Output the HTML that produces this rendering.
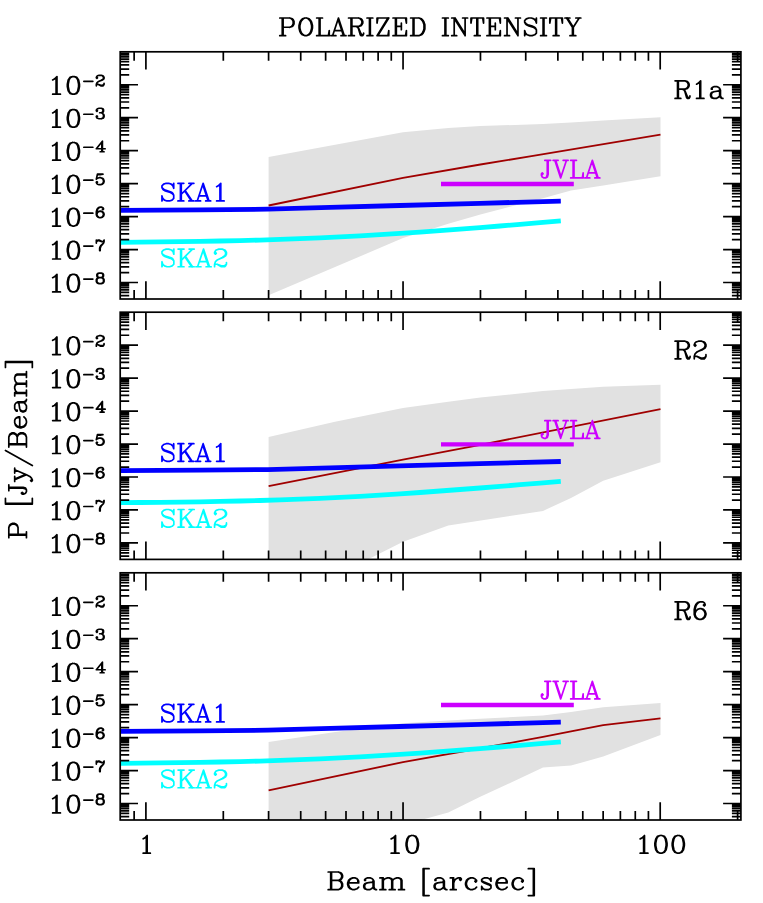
<!DOCTYPE html>
<html><head><meta charset="utf-8"><title>Polarized intensity</title>
<style>html,body{margin:0;padding:0;background:#fff;}svg{display:block;}text{font-family:"Liberation Serif",serif;fill:#000;fill-opacity:0;stroke:none;}</style></head><body>
<svg width="763" height="903" viewBox="0 0 763 903">
<rect x="0" y="0" width="763" height="903" fill="#ffffff"/>
<polygon points="268.6,157.1 403.0,132.2 448.3,128.0 480.4,126.0 543.0,124.1 571.0,122.5 603.2,120.6 660.5,117.2 660.5,176.2 603.2,185.4 571.0,190.5 543.0,198.2 480.4,214.5 448.3,223.8 403.0,238.1 268.6,295.3" fill="#e1e1e1"/>
<polyline points="268.6,205.5 403.0,177.9 480.4,164.5 530.0,156.4 660.5,134.6" fill="none" stroke="#a00000" stroke-width="1.8"/>
<polyline points="121.0,210.3 200.0,209.8 268.0,209.2 330.0,207.4 400.0,205.5 480.0,203.3 560.8,201.1" fill="none" stroke="#0000ff" stroke-width="4.8" stroke-linejoin="round"/>
<polyline points="121.0,242.3 140.0,242.1 160.0,241.9 180.0,241.7 200.0,241.4 220.0,241.0 240.0,240.6 260.0,240.1 280.0,239.4 300.0,238.7 320.0,237.9 340.0,236.9 360.0,235.9 380.0,234.7 400.0,233.4 420.0,232.1 440.0,230.6 460.0,229.1 480.0,227.6 500.0,226.0 520.0,224.3 540.0,222.7 560.8,220.9" fill="none" stroke="#00ffff" stroke-width="4.8" stroke-linejoin="round"/>
<polyline points="441.0,184.0 573.8,184.0" fill="none" stroke="#cc00ff" stroke-width="4.4"/>
<polygon points="268.6,437.0 335.0,421.8 403.0,407.9 448.3,401.7 480.4,397.5 543.0,391.0 571.0,388.9 603.2,386.8 660.5,384.7 660.5,462.3 603.2,480.7 571.0,497.9 543.0,510.9 448.3,525.6 403.1,541.8 367.7,559.4 268.6,559.4" fill="#e1e1e1"/>
<polyline points="268.6,486.2 403.0,459.7 480.4,444.9 660.5,409.2" fill="none" stroke="#a00000" stroke-width="1.8"/>
<polyline points="121.0,470.7 200.0,470.2 268.0,469.6 330.0,467.8 400.0,465.9 480.0,463.7 560.8,461.5" fill="none" stroke="#0000ff" stroke-width="4.8" stroke-linejoin="round"/>
<polyline points="121.0,502.7 140.0,502.5 160.0,502.3 180.0,502.1 200.0,501.8 220.0,501.4 240.0,501.0 260.0,500.5 280.0,499.8 300.0,499.1 320.0,498.3 340.0,497.3 360.0,496.3 380.0,495.1 400.0,493.8 420.0,492.5 440.0,491.0 460.0,489.5 480.0,488.0 500.0,486.4 520.0,484.7 540.0,483.1 560.8,481.3" fill="none" stroke="#00ffff" stroke-width="4.8" stroke-linejoin="round"/>
<polyline points="441.0,444.4 573.8,444.4" fill="none" stroke="#cc00ff" stroke-width="4.4"/>
<polygon points="268.6,742.1 333.6,732.3 403.0,723.3 448.3,720.5 480.4,718.7 543.0,715.6 571.0,711.9 603.2,707.3 660.5,703.1 660.5,734.9 603.2,756.5 571.0,765.6 543.0,767.6 479.7,797.1 448.3,812.6 421.0,820.0 268.6,820.0" fill="#e1e1e1"/>
<polyline points="268.6,790.3 403.0,762.1 520.0,741.2 543.0,736.8 571.0,731.4 603.2,725.1 660.5,718.4" fill="none" stroke="#a00000" stroke-width="1.8"/>
<polyline points="121.0,731.3 200.0,730.8 268.0,730.2 330.0,728.4 400.0,726.5 480.0,724.3 560.8,722.1" fill="none" stroke="#0000ff" stroke-width="4.8" stroke-linejoin="round"/>
<polyline points="121.0,763.3 140.0,763.1 160.0,762.9 180.0,762.7 200.0,762.4 220.0,762.0 240.0,761.6 260.0,761.1 280.0,760.4 300.0,759.7 320.0,758.9 340.0,757.9 360.0,756.9 380.0,755.7 400.0,754.4 420.0,753.1 440.0,751.6 460.0,750.1 480.0,748.6 500.0,747.0 520.0,745.3 540.0,743.7 560.8,741.9" fill="none" stroke="#00ffff" stroke-width="4.8" stroke-linejoin="round"/>
<polyline points="441.0,705.0 573.8,705.0" fill="none" stroke="#cc00ff" stroke-width="4.4"/>
<rect x="120.2" y="51.80" width="620.70" height="247.20" fill="none" stroke="#000" stroke-width="1.7"/>
<rect x="120.2" y="312.20" width="620.70" height="247.20" fill="none" stroke="#000" stroke-width="1.7"/>
<rect x="120.2" y="572.80" width="620.70" height="247.20" fill="none" stroke="#000" stroke-width="1.7"/>
<path d="M134.13 51.80v9.0M134.13 299.00v-9.0M145.90 51.80v17.8M145.90 299.00v-17.8M223.31 51.80v9.0M223.31 299.00v-9.0M268.59 51.80v9.0M268.59 299.00v-9.0M300.72 51.80v9.0M300.72 299.00v-9.0M325.64 51.80v9.0M325.64 299.00v-9.0M346.00 51.80v9.0M346.00 299.00v-9.0M363.22 51.80v9.0M363.22 299.00v-9.0M378.13 51.80v9.0M378.13 299.00v-9.0M391.28 51.80v9.0M391.28 299.00v-9.0M403.05 51.80v17.8M403.05 299.00v-17.8M480.46 51.80v9.0M480.46 299.00v-9.0M525.74 51.80v9.0M525.74 299.00v-9.0M557.87 51.80v9.0M557.87 299.00v-9.0M582.79 51.80v9.0M582.79 299.00v-9.0M603.15 51.80v9.0M603.15 299.00v-9.0M620.37 51.80v9.0M620.37 299.00v-9.0M635.28 51.80v9.0M635.28 299.00v-9.0M648.43 51.80v9.0M648.43 299.00v-9.0M660.20 51.80v17.8M660.20 299.00v-17.8M737.61 51.80v9.0M737.61 299.00v-9.0M120.2 295.64h9.0M740.9 295.64h-9.0M120.2 292.44h9.0M740.9 292.44h-9.0M120.2 289.83h9.0M740.9 289.83h-9.0M120.2 287.63h9.0M740.9 287.63h-9.0M120.2 285.71h9.0M740.9 285.71h-9.0M120.2 284.03h9.0M740.9 284.03h-9.0M120.2 282.52h17.8M740.9 282.52h-17.8M120.2 272.60h9.0M740.9 272.60h-9.0M120.2 266.79h9.0M740.9 266.79h-9.0M120.2 262.68h9.0M740.9 262.68h-9.0M120.2 259.48h9.0M740.9 259.48h-9.0M120.2 256.87h9.0M740.9 256.87h-9.0M120.2 254.67h9.0M740.9 254.67h-9.0M120.2 252.75h9.0M740.9 252.75h-9.0M120.2 251.07h9.0M740.9 251.07h-9.0M120.2 249.56h17.8M740.9 249.56h-17.8M120.2 239.64h9.0M740.9 239.64h-9.0M120.2 233.83h9.0M740.9 233.83h-9.0M120.2 229.72h9.0M740.9 229.72h-9.0M120.2 226.52h9.0M740.9 226.52h-9.0M120.2 223.91h9.0M740.9 223.91h-9.0M120.2 221.71h9.0M740.9 221.71h-9.0M120.2 219.79h9.0M740.9 219.79h-9.0M120.2 218.11h9.0M740.9 218.11h-9.0M120.2 216.60h17.8M740.9 216.60h-17.8M120.2 206.68h9.0M740.9 206.68h-9.0M120.2 200.87h9.0M740.9 200.87h-9.0M120.2 196.76h9.0M740.9 196.76h-9.0M120.2 193.56h9.0M740.9 193.56h-9.0M120.2 190.95h9.0M740.9 190.95h-9.0M120.2 188.75h9.0M740.9 188.75h-9.0M120.2 186.83h9.0M740.9 186.83h-9.0M120.2 185.15h9.0M740.9 185.15h-9.0M120.2 183.64h17.8M740.9 183.64h-17.8M120.2 173.72h9.0M740.9 173.72h-9.0M120.2 167.91h9.0M740.9 167.91h-9.0M120.2 163.80h9.0M740.9 163.80h-9.0M120.2 160.60h9.0M740.9 160.60h-9.0M120.2 157.99h9.0M740.9 157.99h-9.0M120.2 155.79h9.0M740.9 155.79h-9.0M120.2 153.87h9.0M740.9 153.87h-9.0M120.2 152.19h9.0M740.9 152.19h-9.0M120.2 150.68h17.8M740.9 150.68h-17.8M120.2 140.76h9.0M740.9 140.76h-9.0M120.2 134.95h9.0M740.9 134.95h-9.0M120.2 130.84h9.0M740.9 130.84h-9.0M120.2 127.64h9.0M740.9 127.64h-9.0M120.2 125.03h9.0M740.9 125.03h-9.0M120.2 122.83h9.0M740.9 122.83h-9.0M120.2 120.91h9.0M740.9 120.91h-9.0M120.2 119.23h9.0M740.9 119.23h-9.0M120.2 117.72h17.8M740.9 117.72h-17.8M120.2 107.80h9.0M740.9 107.80h-9.0M120.2 101.99h9.0M740.9 101.99h-9.0M120.2 97.88h9.0M740.9 97.88h-9.0M120.2 94.68h9.0M740.9 94.68h-9.0M120.2 92.07h9.0M740.9 92.07h-9.0M120.2 89.87h9.0M740.9 89.87h-9.0M120.2 87.95h9.0M740.9 87.95h-9.0M120.2 86.27h9.0M740.9 86.27h-9.0M120.2 84.76h17.8M740.9 84.76h-17.8M120.2 74.84h9.0M740.9 74.84h-9.0M120.2 69.03h9.0M740.9 69.03h-9.0M120.2 64.92h9.0M740.9 64.92h-9.0M120.2 61.72h9.0M740.9 61.72h-9.0M120.2 59.11h9.0M740.9 59.11h-9.0M120.2 56.91h9.0M740.9 56.91h-9.0M120.2 54.99h9.0M740.9 54.99h-9.0M120.2 53.31h9.0M740.9 53.31h-9.0M134.13 312.20v9.0M134.13 559.40v-9.0M145.90 312.20v17.8M145.90 559.40v-17.8M223.31 312.20v9.0M223.31 559.40v-9.0M268.59 312.20v9.0M268.59 559.40v-9.0M300.72 312.20v9.0M300.72 559.40v-9.0M325.64 312.20v9.0M325.64 559.40v-9.0M346.00 312.20v9.0M346.00 559.40v-9.0M363.22 312.20v9.0M363.22 559.40v-9.0M378.13 312.20v9.0M378.13 559.40v-9.0M391.28 312.20v9.0M391.28 559.40v-9.0M403.05 312.20v17.8M403.05 559.40v-17.8M480.46 312.20v9.0M480.46 559.40v-9.0M525.74 312.20v9.0M525.74 559.40v-9.0M557.87 312.20v9.0M557.87 559.40v-9.0M582.79 312.20v9.0M582.79 559.40v-9.0M603.15 312.20v9.0M603.15 559.40v-9.0M620.37 312.20v9.0M620.37 559.40v-9.0M635.28 312.20v9.0M635.28 559.40v-9.0M648.43 312.20v9.0M648.43 559.40v-9.0M660.20 312.20v17.8M660.20 559.40v-17.8M737.61 312.20v9.0M737.61 559.40v-9.0M120.2 556.04h9.0M740.9 556.04h-9.0M120.2 552.84h9.0M740.9 552.84h-9.0M120.2 550.23h9.0M740.9 550.23h-9.0M120.2 548.03h9.0M740.9 548.03h-9.0M120.2 546.11h9.0M740.9 546.11h-9.0M120.2 544.43h9.0M740.9 544.43h-9.0M120.2 542.92h17.8M740.9 542.92h-17.8M120.2 533.00h9.0M740.9 533.00h-9.0M120.2 527.19h9.0M740.9 527.19h-9.0M120.2 523.08h9.0M740.9 523.08h-9.0M120.2 519.88h9.0M740.9 519.88h-9.0M120.2 517.27h9.0M740.9 517.27h-9.0M120.2 515.07h9.0M740.9 515.07h-9.0M120.2 513.15h9.0M740.9 513.15h-9.0M120.2 511.47h9.0M740.9 511.47h-9.0M120.2 509.96h17.8M740.9 509.96h-17.8M120.2 500.04h9.0M740.9 500.04h-9.0M120.2 494.23h9.0M740.9 494.23h-9.0M120.2 490.12h9.0M740.9 490.12h-9.0M120.2 486.92h9.0M740.9 486.92h-9.0M120.2 484.31h9.0M740.9 484.31h-9.0M120.2 482.11h9.0M740.9 482.11h-9.0M120.2 480.19h9.0M740.9 480.19h-9.0M120.2 478.51h9.0M740.9 478.51h-9.0M120.2 477.00h17.8M740.9 477.00h-17.8M120.2 467.08h9.0M740.9 467.08h-9.0M120.2 461.27h9.0M740.9 461.27h-9.0M120.2 457.16h9.0M740.9 457.16h-9.0M120.2 453.96h9.0M740.9 453.96h-9.0M120.2 451.35h9.0M740.9 451.35h-9.0M120.2 449.15h9.0M740.9 449.15h-9.0M120.2 447.23h9.0M740.9 447.23h-9.0M120.2 445.55h9.0M740.9 445.55h-9.0M120.2 444.04h17.8M740.9 444.04h-17.8M120.2 434.12h9.0M740.9 434.12h-9.0M120.2 428.31h9.0M740.9 428.31h-9.0M120.2 424.20h9.0M740.9 424.20h-9.0M120.2 421.00h9.0M740.9 421.00h-9.0M120.2 418.39h9.0M740.9 418.39h-9.0M120.2 416.19h9.0M740.9 416.19h-9.0M120.2 414.27h9.0M740.9 414.27h-9.0M120.2 412.59h9.0M740.9 412.59h-9.0M120.2 411.08h17.8M740.9 411.08h-17.8M120.2 401.16h9.0M740.9 401.16h-9.0M120.2 395.35h9.0M740.9 395.35h-9.0M120.2 391.24h9.0M740.9 391.24h-9.0M120.2 388.04h9.0M740.9 388.04h-9.0M120.2 385.43h9.0M740.9 385.43h-9.0M120.2 383.23h9.0M740.9 383.23h-9.0M120.2 381.31h9.0M740.9 381.31h-9.0M120.2 379.63h9.0M740.9 379.63h-9.0M120.2 378.12h17.8M740.9 378.12h-17.8M120.2 368.20h9.0M740.9 368.20h-9.0M120.2 362.39h9.0M740.9 362.39h-9.0M120.2 358.28h9.0M740.9 358.28h-9.0M120.2 355.08h9.0M740.9 355.08h-9.0M120.2 352.47h9.0M740.9 352.47h-9.0M120.2 350.27h9.0M740.9 350.27h-9.0M120.2 348.35h9.0M740.9 348.35h-9.0M120.2 346.67h9.0M740.9 346.67h-9.0M120.2 345.16h17.8M740.9 345.16h-17.8M120.2 335.24h9.0M740.9 335.24h-9.0M120.2 329.43h9.0M740.9 329.43h-9.0M120.2 325.32h9.0M740.9 325.32h-9.0M120.2 322.12h9.0M740.9 322.12h-9.0M120.2 319.51h9.0M740.9 319.51h-9.0M120.2 317.31h9.0M740.9 317.31h-9.0M120.2 315.39h9.0M740.9 315.39h-9.0M120.2 313.71h9.0M740.9 313.71h-9.0M134.13 572.80v9.0M134.13 820.00v-9.0M145.90 572.80v17.8M145.90 820.00v-17.8M223.31 572.80v9.0M223.31 820.00v-9.0M268.59 572.80v9.0M268.59 820.00v-9.0M300.72 572.80v9.0M300.72 820.00v-9.0M325.64 572.80v9.0M325.64 820.00v-9.0M346.00 572.80v9.0M346.00 820.00v-9.0M363.22 572.80v9.0M363.22 820.00v-9.0M378.13 572.80v9.0M378.13 820.00v-9.0M391.28 572.80v9.0M391.28 820.00v-9.0M403.05 572.80v17.8M403.05 820.00v-17.8M480.46 572.80v9.0M480.46 820.00v-9.0M525.74 572.80v9.0M525.74 820.00v-9.0M557.87 572.80v9.0M557.87 820.00v-9.0M582.79 572.80v9.0M582.79 820.00v-9.0M603.15 572.80v9.0M603.15 820.00v-9.0M620.37 572.80v9.0M620.37 820.00v-9.0M635.28 572.80v9.0M635.28 820.00v-9.0M648.43 572.80v9.0M648.43 820.00v-9.0M660.20 572.80v17.8M660.20 820.00v-17.8M737.61 572.80v9.0M737.61 820.00v-9.0M120.2 816.64h9.0M740.9 816.64h-9.0M120.2 813.44h9.0M740.9 813.44h-9.0M120.2 810.83h9.0M740.9 810.83h-9.0M120.2 808.63h9.0M740.9 808.63h-9.0M120.2 806.71h9.0M740.9 806.71h-9.0M120.2 805.03h9.0M740.9 805.03h-9.0M120.2 803.52h17.8M740.9 803.52h-17.8M120.2 793.60h9.0M740.9 793.60h-9.0M120.2 787.79h9.0M740.9 787.79h-9.0M120.2 783.68h9.0M740.9 783.68h-9.0M120.2 780.48h9.0M740.9 780.48h-9.0M120.2 777.87h9.0M740.9 777.87h-9.0M120.2 775.67h9.0M740.9 775.67h-9.0M120.2 773.75h9.0M740.9 773.75h-9.0M120.2 772.07h9.0M740.9 772.07h-9.0M120.2 770.56h17.8M740.9 770.56h-17.8M120.2 760.64h9.0M740.9 760.64h-9.0M120.2 754.83h9.0M740.9 754.83h-9.0M120.2 750.72h9.0M740.9 750.72h-9.0M120.2 747.52h9.0M740.9 747.52h-9.0M120.2 744.91h9.0M740.9 744.91h-9.0M120.2 742.71h9.0M740.9 742.71h-9.0M120.2 740.79h9.0M740.9 740.79h-9.0M120.2 739.11h9.0M740.9 739.11h-9.0M120.2 737.60h17.8M740.9 737.60h-17.8M120.2 727.68h9.0M740.9 727.68h-9.0M120.2 721.87h9.0M740.9 721.87h-9.0M120.2 717.76h9.0M740.9 717.76h-9.0M120.2 714.56h9.0M740.9 714.56h-9.0M120.2 711.95h9.0M740.9 711.95h-9.0M120.2 709.75h9.0M740.9 709.75h-9.0M120.2 707.83h9.0M740.9 707.83h-9.0M120.2 706.15h9.0M740.9 706.15h-9.0M120.2 704.64h17.8M740.9 704.64h-17.8M120.2 694.72h9.0M740.9 694.72h-9.0M120.2 688.91h9.0M740.9 688.91h-9.0M120.2 684.80h9.0M740.9 684.80h-9.0M120.2 681.60h9.0M740.9 681.60h-9.0M120.2 678.99h9.0M740.9 678.99h-9.0M120.2 676.79h9.0M740.9 676.79h-9.0M120.2 674.87h9.0M740.9 674.87h-9.0M120.2 673.19h9.0M740.9 673.19h-9.0M120.2 671.68h17.8M740.9 671.68h-17.8M120.2 661.76h9.0M740.9 661.76h-9.0M120.2 655.95h9.0M740.9 655.95h-9.0M120.2 651.84h9.0M740.9 651.84h-9.0M120.2 648.64h9.0M740.9 648.64h-9.0M120.2 646.03h9.0M740.9 646.03h-9.0M120.2 643.83h9.0M740.9 643.83h-9.0M120.2 641.91h9.0M740.9 641.91h-9.0M120.2 640.23h9.0M740.9 640.23h-9.0M120.2 638.72h17.8M740.9 638.72h-17.8M120.2 628.80h9.0M740.9 628.80h-9.0M120.2 622.99h9.0M740.9 622.99h-9.0M120.2 618.88h9.0M740.9 618.88h-9.0M120.2 615.68h9.0M740.9 615.68h-9.0M120.2 613.07h9.0M740.9 613.07h-9.0M120.2 610.87h9.0M740.9 610.87h-9.0M120.2 608.95h9.0M740.9 608.95h-9.0M120.2 607.27h9.0M740.9 607.27h-9.0M120.2 605.76h17.8M740.9 605.76h-17.8M120.2 595.84h9.0M740.9 595.84h-9.0M120.2 590.03h9.0M740.9 590.03h-9.0M120.2 585.92h9.0M740.9 585.92h-9.0M120.2 582.72h9.0M740.9 582.72h-9.0M120.2 580.11h9.0M740.9 580.11h-9.0M120.2 577.91h9.0M740.9 577.91h-9.0M120.2 575.99h9.0M740.9 575.99h-9.0M120.2 574.31h9.0M740.9 574.31h-9.0" fill="none" stroke="#000" stroke-width="1.7"/>
<path d="M282.27 18.01L282.27 35.65M283.1 18.01L283.1 35.65M279.75 18.01L289.81 18.01L292.33 18.85L293.17 19.69L294.01 21.37L294.01 23.89L293.17 25.57L292.33 26.41L289.81 27.25L283.1 27.25M289.81 18.01L291.49 18.85L292.33 19.69L293.17 21.37L293.17 23.89L292.33 25.57L291.49 26.41L289.81 27.25M279.75 35.65L285.62 35.65M304.91 18.01L302.4 18.85L300.72 20.53L299.88 22.21L299.04 25.57L299.04 28.09L299.88 31.45L300.72 33.13L302.4 34.81L304.91 35.65L306.59 35.65L309.11 34.81L310.78 33.13L311.62 31.45L312.46 28.09L312.46 25.57L311.62 22.21L310.78 20.53L309.11 18.85L306.59 18.01L304.91 18.01M304.91 18.01L303.23 18.85L301.56 20.53L300.72 22.21L299.88 25.57L299.88 28.09L300.72 31.45L301.56 33.13L303.23 34.81L304.91 35.65M306.59 35.65L308.27 34.81L309.94 33.13L310.78 31.45L311.62 28.09L311.62 25.57L310.78 22.21L309.94 20.53L308.27 18.85L306.59 18.01M319.17 18.01L319.17 35.65M320.01 18.01L320.01 35.65M316.65 18.01L322.52 18.01M316.65 35.65L329.23 35.65L329.23 30.61L328.4 35.65M338.46 18.01L332.59 35.65M338.46 18.01L344.33 35.65M338.46 20.53L343.49 35.65M334.27 30.61L341.82 30.61M330.91 35.65L335.94 35.65M340.98 35.65L346.01 35.65M351.04 18.01L351.04 35.65M351.88 18.01L351.88 35.65M348.52 18.01L358.59 18.01L361.11 18.85L361.94 19.69L362.78 21.37L362.78 23.05L361.94 24.73L361.11 25.57L358.59 26.41L351.88 26.41M358.59 18.01L360.27 18.85L361.11 19.69L361.94 21.37L361.94 23.05L361.11 24.73L360.27 25.57L358.59 26.41M348.52 35.65L354.4 35.65M356.07 26.41L357.75 27.25L358.59 28.09L361.11 33.97L361.94 34.81L362.78 34.81L363.62 33.97M357.75 27.25L358.59 28.93L360.27 34.81L361.11 35.65L362.78 35.65L363.62 33.97L363.62 33.13M369.49 18.01L369.49 35.65M370.33 18.01L370.33 35.65M366.98 18.01L372.85 18.01M366.98 35.65L372.85 35.65M387.94 18.01L377.04 35.65M388.78 18.01L377.88 35.65M377.88 18.01L377.04 23.05L377.04 18.01L388.78 18.01M377.04 35.65L388.78 35.65L388.78 30.61L387.94 35.65M395.49 18.01L395.49 35.65M396.33 18.01L396.33 35.65M401.36 23.05L401.36 29.77M392.98 18.01L406.4 18.01L406.4 23.05L405.56 18.01M396.33 26.41L401.36 26.41M392.98 35.65L406.4 35.65L406.4 30.61L405.56 35.65M413.11 18.01L413.11 35.65M413.94 18.01L413.94 35.65M410.59 18.01L418.98 18.01L421.49 18.85L423.17 20.53L424.01 22.21L424.85 24.73L424.85 28.93L424.01 31.45L423.17 33.13L421.49 34.81L418.98 35.65L410.59 35.65M418.98 18.01L420.65 18.85L422.33 20.53L423.17 22.21L424.01 24.73L424.01 28.93L423.17 31.45L422.33 33.13L420.65 34.81L418.98 35.65M444.98 18.01L444.98 35.65M445.82 18.01L445.82 35.65M442.46 18.01L448.33 18.01M442.46 35.65L448.33 35.65M454.2 18.01L454.2 35.65M455.04 18.01L465.11 33.97M455.04 19.69L465.11 35.65M465.11 18.01L465.11 35.65M451.69 18.01L455.04 18.01M462.59 18.01L467.62 18.01M451.69 35.65L456.72 35.65M476.85 18.01L476.85 35.65M477.69 18.01L477.69 35.65M471.82 18.01L470.98 23.05L470.98 18.01L483.56 18.01L483.56 23.05L482.72 18.01M474.33 35.65L480.2 35.65M489.43 18.01L489.43 35.65M490.27 18.01L490.27 35.65M495.3 23.05L495.3 29.77M486.91 18.01L500.33 18.01L500.33 23.05L499.49 18.01M490.27 26.41L495.3 26.41M486.91 35.65L500.33 35.65L500.33 30.61L499.49 35.65M507.04 18.01L507.04 35.65M507.88 18.01L517.95 33.97M507.88 19.69L517.95 35.65M517.95 18.01L517.95 35.65M504.53 18.01L507.88 18.01M515.43 18.01L520.46 18.01M504.53 35.65L509.56 35.65M535.56 20.53L536.4 18.01L536.4 23.05L535.56 20.53L533.88 18.85L531.37 18.01L528.85 18.01L526.33 18.85L524.66 20.53L524.66 22.21L525.49 23.89L526.33 24.73L528.01 25.57L533.04 27.25L534.72 28.09L536.4 29.77M524.66 22.21L526.33 23.89L528.01 24.73L533.04 26.41L534.72 27.25L535.56 28.09L536.4 29.77L536.4 33.13L534.72 34.81L532.2 35.65L529.69 35.65L527.17 34.81L525.49 33.13L524.66 30.61L524.66 35.65L525.49 33.13M543.11 18.01L543.11 35.65M543.95 18.01L543.95 35.65M540.59 18.01L546.46 18.01M540.59 35.65L546.46 35.65M555.69 18.01L555.69 35.65M556.53 18.01L556.53 35.65M550.66 18.01L549.82 23.05L549.82 18.01L562.4 18.01L562.4 23.05L561.56 18.01M553.17 35.65L559.04 35.65M566.59 18.01L572.46 27.25L572.46 35.65M567.43 18.01L573.3 27.25L573.3 35.65M579.17 18.01L573.3 27.25M564.91 18.01L569.95 18.01M575.82 18.01L580.85 18.01M569.95 35.65L575.82 35.65" fill="none" stroke="#000" stroke-width="1.7" stroke-linecap="round" stroke-linejoin="round"/>
<path d="M52.65 277.69L54.38 276.85L56.97 274.33L56.97 291.97M56.11 275.17L56.11 291.97M52.65 291.97L60.43 291.97M72.53 274.33L69.94 275.17L68.21 277.69L67.35 281.89L67.35 284.41L68.21 288.61L69.94 291.13L72.53 291.97L74.26 291.97L76.86 291.13L78.59 288.61L79.45 284.41L79.45 281.89L78.59 277.69L76.86 275.17L74.26 274.33L72.53 274.33M72.53 274.33L70.8 275.17L69.94 276.01L69.08 277.69L68.21 281.89L68.21 284.41L69.08 288.61L69.94 290.29L70.8 291.13L72.53 291.97M74.26 291.97L75.99 291.13L76.86 290.29L77.72 288.61L78.59 284.41L78.59 281.89L77.72 277.69L76.86 276.01L75.99 275.17L74.26 274.33M83.85 279.07L92.85 279.07M99.1 273.07L97.45 273.57L96.9 274.57L96.9 276.07L97.45 277.07L99.1 277.57L101.3 277.57L102.95 277.07L103.5 276.07L103.5 274.57L102.95 273.57L101.3 273.07L99.1 273.07M99.1 273.07L98 273.57L97.45 274.57L97.45 276.07L98 277.07L99.1 277.57M101.3 277.57L102.4 277.07L102.95 276.07L102.95 274.57L102.4 273.57L101.3 273.07M99.1 277.57L97.45 278.07L96.9 278.57L96.35 279.57L96.35 281.57L96.9 282.57L97.45 283.07L99.1 283.57L101.3 283.57L102.95 283.07L103.5 282.57L104.05 281.57L104.05 279.57L103.5 278.57L102.95 278.07L101.3 277.57M99.1 277.57L98 278.07L97.45 278.57L96.9 279.57L96.9 281.57L97.45 282.57L98 283.07L99.1 283.57M101.3 283.57L102.4 283.07L102.95 282.57L103.5 281.57L103.5 279.57L102.95 278.57L102.4 278.07L101.3 277.57M52.65 244.73L54.38 243.89L56.97 241.37L56.97 259.01M56.11 242.21L56.11 259.01M52.65 259.01L60.43 259.01M72.53 241.37L69.94 242.21L68.21 244.73L67.35 248.93L67.35 251.45L68.21 255.65L69.94 258.17L72.53 259.01L74.26 259.01L76.86 258.17L78.59 255.65L79.45 251.45L79.45 248.93L78.59 244.73L76.86 242.21L74.26 241.37L72.53 241.37M72.53 241.37L70.8 242.21L69.94 243.05L69.08 244.73L68.21 248.93L68.21 251.45L69.08 255.65L69.94 257.33L70.8 258.17L72.53 259.01M74.26 259.01L75.99 258.17L76.86 257.33L77.72 255.65L78.59 251.45L78.59 248.93L77.72 244.73L76.86 243.05L75.99 242.21L74.26 241.37M83.85 246.11L92.85 246.11M96.35 240.11L96.35 243.11M96.35 242.11L96.9 241.11L98 240.11L99.1 240.11L101.85 241.61L102.95 241.61L103.5 241.11L104.05 240.11M96.9 241.11L98 240.61L99.1 240.61L101.85 241.61M104.05 240.11L104.05 241.61L103.5 243.11L101.3 245.61L100.75 246.61L100.2 248.11L100.2 250.61M103.5 243.11L100.75 245.61L100.2 246.61L99.65 248.11L99.65 250.61M52.65 211.77L54.38 210.93L56.97 208.41L56.97 226.05M56.11 209.25L56.11 226.05M52.65 226.05L60.43 226.05M72.53 208.41L69.94 209.25L68.21 211.77L67.35 215.97L67.35 218.49L68.21 222.69L69.94 225.21L72.53 226.05L74.26 226.05L76.86 225.21L78.59 222.69L79.45 218.49L79.45 215.97L78.59 211.77L76.86 209.25L74.26 208.41L72.53 208.41M72.53 208.41L70.8 209.25L69.94 210.09L69.08 211.77L68.21 215.97L68.21 218.49L69.08 222.69L69.94 224.37L70.8 225.21L72.53 226.05M74.26 226.05L75.99 225.21L76.86 224.37L77.72 222.69L78.59 218.49L78.59 215.97L77.72 211.77L76.86 210.09L75.99 209.25L74.26 208.41M83.85 213.15L92.85 213.15M102.95 208.65L102.4 209.15L102.95 209.65L103.5 209.15L103.5 208.65L102.95 207.65L101.85 207.15L100.2 207.15L98.55 207.65L97.45 208.65L96.9 209.65L96.35 211.65L96.35 214.65L96.9 216.15L98 217.15L99.65 217.65L100.75 217.65L102.4 217.15L103.5 216.15L104.05 214.65L104.05 214.15L103.5 212.65L102.4 211.65L100.75 211.15L100.2 211.15L98.55 211.65L97.45 212.65L96.9 214.15M100.2 207.15L99.1 207.65L98 208.65L97.45 209.65L96.9 211.65L96.9 214.65L97.45 216.15L98.55 217.15L99.65 217.65M100.75 217.65L101.85 217.15L102.95 216.15L103.5 214.65L103.5 214.15L102.95 212.65L101.85 211.65L100.75 211.15M52.65 178.81L54.38 177.97L56.97 175.45L56.97 193.09M56.11 176.29L56.11 193.09M52.65 193.09L60.43 193.09M72.53 175.45L69.94 176.29L68.21 178.81L67.35 183.01L67.35 185.53L68.21 189.73L69.94 192.25L72.53 193.09L74.26 193.09L76.86 192.25L78.59 189.73L79.45 185.53L79.45 183.01L78.59 178.81L76.86 176.29L74.26 175.45L72.53 175.45M72.53 175.45L70.8 176.29L69.94 177.13L69.08 178.81L68.21 183.01L68.21 185.53L69.08 189.73L69.94 191.41L70.8 192.25L72.53 193.09M74.26 193.09L75.99 192.25L76.86 191.41L77.72 189.73L78.59 185.53L78.59 183.01L77.72 178.81L76.86 177.13L75.99 176.29L74.26 175.45M83.85 180.19L92.85 180.19M97.45 174.19L96.35 179.19M96.35 179.19L97.45 178.19L99.1 177.69L100.75 177.69L102.4 178.19L103.5 179.19L104.05 180.69L104.05 181.69L103.5 183.19L102.4 184.19L100.75 184.69L99.1 184.69L97.45 184.19L96.9 183.69L96.35 182.69L96.35 182.19L96.9 181.69L97.45 182.19L96.9 182.69M100.75 177.69L101.85 178.19L102.95 179.19L103.5 180.69L103.5 181.69L102.95 183.19L101.85 184.19L100.75 184.69M97.45 174.19L102.95 174.19M97.45 174.69L100.2 174.69L102.95 174.19M52.65 145.85L54.38 145.01L56.97 142.49L56.97 160.13M56.11 143.33L56.11 160.13M52.65 160.13L60.43 160.13M72.53 142.49L69.94 143.33L68.21 145.85L67.35 150.05L67.35 152.57L68.21 156.77L69.94 159.29L72.53 160.13L74.26 160.13L76.86 159.29L78.59 156.77L79.45 152.57L79.45 150.05L78.59 145.85L76.86 143.33L74.26 142.49L72.53 142.49M72.53 142.49L70.8 143.33L69.94 144.17L69.08 145.85L68.21 150.05L68.21 152.57L69.08 156.77L69.94 158.45L70.8 159.29L72.53 160.13M74.26 160.13L75.99 159.29L76.86 158.45L77.72 156.77L78.59 152.57L78.59 150.05L77.72 145.85L76.86 144.17L75.99 143.33L74.26 142.49M83.85 147.23L92.85 147.23M101.85 142.23L101.85 151.73M102.4 141.23L102.4 151.73M102.4 141.23L96.35 148.73L105.15 148.73M100.2 151.73L104.05 151.73M52.65 112.89L54.38 112.05L56.97 109.53L56.97 127.17M56.11 110.37L56.11 127.17M52.65 127.17L60.43 127.17M72.53 109.53L69.94 110.37L68.21 112.89L67.35 117.09L67.35 119.61L68.21 123.81L69.94 126.33L72.53 127.17L74.26 127.17L76.86 126.33L78.59 123.81L79.45 119.61L79.45 117.09L78.59 112.89L76.86 110.37L74.26 109.53L72.53 109.53M72.53 109.53L70.8 110.37L69.94 111.21L69.08 112.89L68.21 117.09L68.21 119.61L69.08 123.81L69.94 125.49L70.8 126.33L72.53 127.17M74.26 127.17L75.99 126.33L76.86 125.49L77.72 123.81L78.59 119.61L78.59 117.09L77.72 112.89L76.86 111.21L75.99 110.37L74.26 109.53M83.85 114.27L92.85 114.27M96.9 110.27L97.45 110.77L96.9 111.27L96.35 110.77L96.35 110.27L96.9 109.27L97.45 108.77L99.1 108.27L101.3 108.27L102.95 108.77L103.5 109.77L103.5 111.27L102.95 112.27L101.3 112.77L99.65 112.77M101.3 108.27L102.4 108.77L102.95 109.77L102.95 111.27L102.4 112.27L101.3 112.77M101.3 112.77L102.4 113.27L103.5 114.27L104.05 115.27L104.05 116.77L103.5 117.77L102.95 118.27L101.3 118.77L99.1 118.77L97.45 118.27L96.9 117.77L96.35 116.77L96.35 116.27L96.9 115.77L97.45 116.27L96.9 116.77M102.95 113.77L103.5 115.27L103.5 116.77L102.95 117.77L102.4 118.27L101.3 118.77M52.65 79.93L54.38 79.09L56.97 76.57L56.97 94.21M56.11 77.41L56.11 94.21M52.65 94.21L60.43 94.21M72.53 76.57L69.94 77.41L68.21 79.93L67.35 84.13L67.35 86.65L68.21 90.85L69.94 93.37L72.53 94.21L74.26 94.21L76.86 93.37L78.59 90.85L79.45 86.65L79.45 84.13L78.59 79.93L76.86 77.41L74.26 76.57L72.53 76.57M72.53 76.57L70.8 77.41L69.94 78.25L69.08 79.93L68.21 84.13L68.21 86.65L69.08 90.85L69.94 92.53L70.8 93.37L72.53 94.21M74.26 94.21L75.99 93.37L76.86 92.53L77.72 90.85L78.59 86.65L78.59 84.13L77.72 79.93L76.86 78.25L75.99 77.41L74.26 76.57M83.85 81.31L92.85 81.31M96.9 77.31L97.45 77.81L96.9 78.31L96.35 77.81L96.35 77.31L96.9 76.31L97.45 75.81L99.1 75.31L101.3 75.31L102.95 75.81L103.5 76.31L104.05 77.31L104.05 78.31L103.5 79.31L101.85 80.31L99.1 81.31L98 81.81L96.9 82.81L96.35 84.31L96.35 85.81M101.3 75.31L102.4 75.81L102.95 76.31L103.5 77.31L103.5 78.31L102.95 79.31L101.3 80.31L99.1 81.31M96.35 84.81L96.9 84.31L98 84.31L100.75 85.31L102.4 85.31L103.5 84.81L104.05 84.31M98 84.31L100.75 85.81L102.95 85.81L103.5 85.31L104.05 84.31L104.05 83.31M52.65 538.09L54.38 537.25L56.97 534.73L56.97 552.37M56.11 535.57L56.11 552.37M52.65 552.37L60.43 552.37M72.53 534.73L69.94 535.57L68.21 538.09L67.35 542.29L67.35 544.81L68.21 549.01L69.94 551.53L72.53 552.37L74.26 552.37L76.86 551.53L78.59 549.01L79.45 544.81L79.45 542.29L78.59 538.09L76.86 535.57L74.26 534.73L72.53 534.73M72.53 534.73L70.8 535.57L69.94 536.41L69.08 538.09L68.21 542.29L68.21 544.81L69.08 549.01L69.94 550.69L70.8 551.53L72.53 552.37M74.26 552.37L75.99 551.53L76.86 550.69L77.72 549.01L78.59 544.81L78.59 542.29L77.72 538.09L76.86 536.41L75.99 535.57L74.26 534.73M83.85 539.47L92.85 539.47M99.1 533.47L97.45 533.97L96.9 534.97L96.9 536.47L97.45 537.47L99.1 537.97L101.3 537.97L102.95 537.47L103.5 536.47L103.5 534.97L102.95 533.97L101.3 533.47L99.1 533.47M99.1 533.47L98 533.97L97.45 534.97L97.45 536.47L98 537.47L99.1 537.97M101.3 537.97L102.4 537.47L102.95 536.47L102.95 534.97L102.4 533.97L101.3 533.47M99.1 537.97L97.45 538.47L96.9 538.97L96.35 539.97L96.35 541.97L96.9 542.97L97.45 543.47L99.1 543.97L101.3 543.97L102.95 543.47L103.5 542.97L104.05 541.97L104.05 539.97L103.5 538.97L102.95 538.47L101.3 537.97M99.1 537.97L98 538.47L97.45 538.97L96.9 539.97L96.9 541.97L97.45 542.97L98 543.47L99.1 543.97M101.3 543.97L102.4 543.47L102.95 542.97L103.5 541.97L103.5 539.97L102.95 538.97L102.4 538.47L101.3 537.97M52.65 505.13L54.38 504.29L56.97 501.77L56.97 519.41M56.11 502.61L56.11 519.41M52.65 519.41L60.43 519.41M72.53 501.77L69.94 502.61L68.21 505.13L67.35 509.33L67.35 511.85L68.21 516.05L69.94 518.57L72.53 519.41L74.26 519.41L76.86 518.57L78.59 516.05L79.45 511.85L79.45 509.33L78.59 505.13L76.86 502.61L74.26 501.77L72.53 501.77M72.53 501.77L70.8 502.61L69.94 503.45L69.08 505.13L68.21 509.33L68.21 511.85L69.08 516.05L69.94 517.73L70.8 518.57L72.53 519.41M74.26 519.41L75.99 518.57L76.86 517.73L77.72 516.05L78.59 511.85L78.59 509.33L77.72 505.13L76.86 503.45L75.99 502.61L74.26 501.77M83.85 506.51L92.85 506.51M96.35 500.51L96.35 503.51M96.35 502.51L96.9 501.51L98 500.51L99.1 500.51L101.85 502.01L102.95 502.01L103.5 501.51L104.05 500.51M96.9 501.51L98 501.01L99.1 501.01L101.85 502.01M104.05 500.51L104.05 502.01L103.5 503.51L101.3 506.01L100.75 507.01L100.2 508.51L100.2 511.01M103.5 503.51L100.75 506.01L100.2 507.01L99.65 508.51L99.65 511.01M52.65 472.17L54.38 471.33L56.97 468.81L56.97 486.45M56.11 469.65L56.11 486.45M52.65 486.45L60.43 486.45M72.53 468.81L69.94 469.65L68.21 472.17L67.35 476.37L67.35 478.89L68.21 483.09L69.94 485.61L72.53 486.45L74.26 486.45L76.86 485.61L78.59 483.09L79.45 478.89L79.45 476.37L78.59 472.17L76.86 469.65L74.26 468.81L72.53 468.81M72.53 468.81L70.8 469.65L69.94 470.49L69.08 472.17L68.21 476.37L68.21 478.89L69.08 483.09L69.94 484.77L70.8 485.61L72.53 486.45M74.26 486.45L75.99 485.61L76.86 484.77L77.72 483.09L78.59 478.89L78.59 476.37L77.72 472.17L76.86 470.49L75.99 469.65L74.26 468.81M83.85 473.55L92.85 473.55M102.95 469.05L102.4 469.55L102.95 470.05L103.5 469.55L103.5 469.05L102.95 468.05L101.85 467.55L100.2 467.55L98.55 468.05L97.45 469.05L96.9 470.05L96.35 472.05L96.35 475.05L96.9 476.55L98 477.55L99.65 478.05L100.75 478.05L102.4 477.55L103.5 476.55L104.05 475.05L104.05 474.55L103.5 473.05L102.4 472.05L100.75 471.55L100.2 471.55L98.55 472.05L97.45 473.05L96.9 474.55M100.2 467.55L99.1 468.05L98 469.05L97.45 470.05L96.9 472.05L96.9 475.05L97.45 476.55L98.55 477.55L99.65 478.05M100.75 478.05L101.85 477.55L102.95 476.55L103.5 475.05L103.5 474.55L102.95 473.05L101.85 472.05L100.75 471.55M52.65 439.21L54.38 438.37L56.97 435.85L56.97 453.49M56.11 436.69L56.11 453.49M52.65 453.49L60.43 453.49M72.53 435.85L69.94 436.69L68.21 439.21L67.35 443.41L67.35 445.93L68.21 450.13L69.94 452.65L72.53 453.49L74.26 453.49L76.86 452.65L78.59 450.13L79.45 445.93L79.45 443.41L78.59 439.21L76.86 436.69L74.26 435.85L72.53 435.85M72.53 435.85L70.8 436.69L69.94 437.53L69.08 439.21L68.21 443.41L68.21 445.93L69.08 450.13L69.94 451.81L70.8 452.65L72.53 453.49M74.26 453.49L75.99 452.65L76.86 451.81L77.72 450.13L78.59 445.93L78.59 443.41L77.72 439.21L76.86 437.53L75.99 436.69L74.26 435.85M83.85 440.59L92.85 440.59M97.45 434.59L96.35 439.59M96.35 439.59L97.45 438.59L99.1 438.09L100.75 438.09L102.4 438.59L103.5 439.59L104.05 441.09L104.05 442.09L103.5 443.59L102.4 444.59L100.75 445.09L99.1 445.09L97.45 444.59L96.9 444.09L96.35 443.09L96.35 442.59L96.9 442.09L97.45 442.59L96.9 443.09M100.75 438.09L101.85 438.59L102.95 439.59L103.5 441.09L103.5 442.09L102.95 443.59L101.85 444.59L100.75 445.09M97.45 434.59L102.95 434.59M97.45 435.09L100.2 435.09L102.95 434.59M52.65 406.25L54.38 405.41L56.97 402.89L56.97 420.53M56.11 403.73L56.11 420.53M52.65 420.53L60.43 420.53M72.53 402.89L69.94 403.73L68.21 406.25L67.35 410.45L67.35 412.97L68.21 417.17L69.94 419.69L72.53 420.53L74.26 420.53L76.86 419.69L78.59 417.17L79.45 412.97L79.45 410.45L78.59 406.25L76.86 403.73L74.26 402.89L72.53 402.89M72.53 402.89L70.8 403.73L69.94 404.57L69.08 406.25L68.21 410.45L68.21 412.97L69.08 417.17L69.94 418.85L70.8 419.69L72.53 420.53M74.26 420.53L75.99 419.69L76.86 418.85L77.72 417.17L78.59 412.97L78.59 410.45L77.72 406.25L76.86 404.57L75.99 403.73L74.26 402.89M83.85 407.63L92.85 407.63M101.85 402.63L101.85 412.13M102.4 401.63L102.4 412.13M102.4 401.63L96.35 409.13L105.15 409.13M100.2 412.13L104.05 412.13M52.65 373.29L54.38 372.45L56.97 369.93L56.97 387.57M56.11 370.77L56.11 387.57M52.65 387.57L60.43 387.57M72.53 369.93L69.94 370.77L68.21 373.29L67.35 377.49L67.35 380.01L68.21 384.21L69.94 386.73L72.53 387.57L74.26 387.57L76.86 386.73L78.59 384.21L79.45 380.01L79.45 377.49L78.59 373.29L76.86 370.77L74.26 369.93L72.53 369.93M72.53 369.93L70.8 370.77L69.94 371.61L69.08 373.29L68.21 377.49L68.21 380.01L69.08 384.21L69.94 385.89L70.8 386.73L72.53 387.57M74.26 387.57L75.99 386.73L76.86 385.89L77.72 384.21L78.59 380.01L78.59 377.49L77.72 373.29L76.86 371.61L75.99 370.77L74.26 369.93M83.85 374.67L92.85 374.67M96.9 370.67L97.45 371.17L96.9 371.67L96.35 371.17L96.35 370.67L96.9 369.67L97.45 369.17L99.1 368.67L101.3 368.67L102.95 369.17L103.5 370.17L103.5 371.67L102.95 372.67L101.3 373.17L99.65 373.17M101.3 368.67L102.4 369.17L102.95 370.17L102.95 371.67L102.4 372.67L101.3 373.17M101.3 373.17L102.4 373.67L103.5 374.67L104.05 375.67L104.05 377.17L103.5 378.17L102.95 378.67L101.3 379.17L99.1 379.17L97.45 378.67L96.9 378.17L96.35 377.17L96.35 376.67L96.9 376.17L97.45 376.67L96.9 377.17M102.95 374.17L103.5 375.67L103.5 377.17L102.95 378.17L102.4 378.67L101.3 379.17M52.65 340.33L54.38 339.49L56.97 336.97L56.97 354.61M56.11 337.81L56.11 354.61M52.65 354.61L60.43 354.61M72.53 336.97L69.94 337.81L68.21 340.33L67.35 344.53L67.35 347.05L68.21 351.25L69.94 353.77L72.53 354.61L74.26 354.61L76.86 353.77L78.59 351.25L79.45 347.05L79.45 344.53L78.59 340.33L76.86 337.81L74.26 336.97L72.53 336.97M72.53 336.97L70.8 337.81L69.94 338.65L69.08 340.33L68.21 344.53L68.21 347.05L69.08 351.25L69.94 352.93L70.8 353.77L72.53 354.61M74.26 354.61L75.99 353.77L76.86 352.93L77.72 351.25L78.59 347.05L78.59 344.53L77.72 340.33L76.86 338.65L75.99 337.81L74.26 336.97M83.85 341.71L92.85 341.71M96.9 337.71L97.45 338.21L96.9 338.71L96.35 338.21L96.35 337.71L96.9 336.71L97.45 336.21L99.1 335.71L101.3 335.71L102.95 336.21L103.5 336.71L104.05 337.71L104.05 338.71L103.5 339.71L101.85 340.71L99.1 341.71L98 342.21L96.9 343.21L96.35 344.71L96.35 346.21M101.3 335.71L102.4 336.21L102.95 336.71L103.5 337.71L103.5 338.71L102.95 339.71L101.3 340.71L99.1 341.71M96.35 345.21L96.9 344.71L98 344.71L100.75 345.71L102.4 345.71L103.5 345.21L104.05 344.71M98 344.71L100.75 346.21L102.95 346.21L103.5 345.71L104.05 344.71L104.05 343.71M52.65 798.69L54.38 797.85L56.97 795.33L56.97 812.97M56.11 796.17L56.11 812.97M52.65 812.97L60.43 812.97M72.53 795.33L69.94 796.17L68.21 798.69L67.35 802.89L67.35 805.41L68.21 809.61L69.94 812.13L72.53 812.97L74.26 812.97L76.86 812.13L78.59 809.61L79.45 805.41L79.45 802.89L78.59 798.69L76.86 796.17L74.26 795.33L72.53 795.33M72.53 795.33L70.8 796.17L69.94 797.01L69.08 798.69L68.21 802.89L68.21 805.41L69.08 809.61L69.94 811.29L70.8 812.13L72.53 812.97M74.26 812.97L75.99 812.13L76.86 811.29L77.72 809.61L78.59 805.41L78.59 802.89L77.72 798.69L76.86 797.01L75.99 796.17L74.26 795.33M83.85 800.07L92.85 800.07M99.1 794.07L97.45 794.57L96.9 795.57L96.9 797.07L97.45 798.07L99.1 798.57L101.3 798.57L102.95 798.07L103.5 797.07L103.5 795.57L102.95 794.57L101.3 794.07L99.1 794.07M99.1 794.07L98 794.57L97.45 795.57L97.45 797.07L98 798.07L99.1 798.57M101.3 798.57L102.4 798.07L102.95 797.07L102.95 795.57L102.4 794.57L101.3 794.07M99.1 798.57L97.45 799.07L96.9 799.57L96.35 800.57L96.35 802.57L96.9 803.57L97.45 804.07L99.1 804.57L101.3 804.57L102.95 804.07L103.5 803.57L104.05 802.57L104.05 800.57L103.5 799.57L102.95 799.07L101.3 798.57M99.1 798.57L98 799.07L97.45 799.57L96.9 800.57L96.9 802.57L97.45 803.57L98 804.07L99.1 804.57M101.3 804.57L102.4 804.07L102.95 803.57L103.5 802.57L103.5 800.57L102.95 799.57L102.4 799.07L101.3 798.57M52.65 765.73L54.38 764.89L56.97 762.37L56.97 780.01M56.11 763.21L56.11 780.01M52.65 780.01L60.43 780.01M72.53 762.37L69.94 763.21L68.21 765.73L67.35 769.93L67.35 772.45L68.21 776.65L69.94 779.17L72.53 780.01L74.26 780.01L76.86 779.17L78.59 776.65L79.45 772.45L79.45 769.93L78.59 765.73L76.86 763.21L74.26 762.37L72.53 762.37M72.53 762.37L70.8 763.21L69.94 764.05L69.08 765.73L68.21 769.93L68.21 772.45L69.08 776.65L69.94 778.33L70.8 779.17L72.53 780.01M74.26 780.01L75.99 779.17L76.86 778.33L77.72 776.65L78.59 772.45L78.59 769.93L77.72 765.73L76.86 764.05L75.99 763.21L74.26 762.37M83.85 767.11L92.85 767.11M96.35 761.11L96.35 764.11M96.35 763.11L96.9 762.11L98 761.11L99.1 761.11L101.85 762.61L102.95 762.61L103.5 762.11L104.05 761.11M96.9 762.11L98 761.61L99.1 761.61L101.85 762.61M104.05 761.11L104.05 762.61L103.5 764.11L101.3 766.61L100.75 767.61L100.2 769.11L100.2 771.61M103.5 764.11L100.75 766.61L100.2 767.61L99.65 769.11L99.65 771.61M52.65 732.77L54.38 731.93L56.97 729.41L56.97 747.05M56.11 730.25L56.11 747.05M52.65 747.05L60.43 747.05M72.53 729.41L69.94 730.25L68.21 732.77L67.35 736.97L67.35 739.49L68.21 743.69L69.94 746.21L72.53 747.05L74.26 747.05L76.86 746.21L78.59 743.69L79.45 739.49L79.45 736.97L78.59 732.77L76.86 730.25L74.26 729.41L72.53 729.41M72.53 729.41L70.8 730.25L69.94 731.09L69.08 732.77L68.21 736.97L68.21 739.49L69.08 743.69L69.94 745.37L70.8 746.21L72.53 747.05M74.26 747.05L75.99 746.21L76.86 745.37L77.72 743.69L78.59 739.49L78.59 736.97L77.72 732.77L76.86 731.09L75.99 730.25L74.26 729.41M83.85 734.15L92.85 734.15M102.95 729.65L102.4 730.15L102.95 730.65L103.5 730.15L103.5 729.65L102.95 728.65L101.85 728.15L100.2 728.15L98.55 728.65L97.45 729.65L96.9 730.65L96.35 732.65L96.35 735.65L96.9 737.15L98 738.15L99.65 738.65L100.75 738.65L102.4 738.15L103.5 737.15L104.05 735.65L104.05 735.15L103.5 733.65L102.4 732.65L100.75 732.15L100.2 732.15L98.55 732.65L97.45 733.65L96.9 735.15M100.2 728.15L99.1 728.65L98 729.65L97.45 730.65L96.9 732.65L96.9 735.65L97.45 737.15L98.55 738.15L99.65 738.65M100.75 738.65L101.85 738.15L102.95 737.15L103.5 735.65L103.5 735.15L102.95 733.65L101.85 732.65L100.75 732.15M52.65 699.81L54.38 698.97L56.97 696.45L56.97 714.09M56.11 697.29L56.11 714.09M52.65 714.09L60.43 714.09M72.53 696.45L69.94 697.29L68.21 699.81L67.35 704.01L67.35 706.53L68.21 710.73L69.94 713.25L72.53 714.09L74.26 714.09L76.86 713.25L78.59 710.73L79.45 706.53L79.45 704.01L78.59 699.81L76.86 697.29L74.26 696.45L72.53 696.45M72.53 696.45L70.8 697.29L69.94 698.13L69.08 699.81L68.21 704.01L68.21 706.53L69.08 710.73L69.94 712.41L70.8 713.25L72.53 714.09M74.26 714.09L75.99 713.25L76.86 712.41L77.72 710.73L78.59 706.53L78.59 704.01L77.72 699.81L76.86 698.13L75.99 697.29L74.26 696.45M83.85 701.19L92.85 701.19M97.45 695.19L96.35 700.19M96.35 700.19L97.45 699.19L99.1 698.69L100.75 698.69L102.4 699.19L103.5 700.19L104.05 701.69L104.05 702.69L103.5 704.19L102.4 705.19L100.75 705.69L99.1 705.69L97.45 705.19L96.9 704.69L96.35 703.69L96.35 703.19L96.9 702.69L97.45 703.19L96.9 703.69M100.75 698.69L101.85 699.19L102.95 700.19L103.5 701.69L103.5 702.69L102.95 704.19L101.85 705.19L100.75 705.69M97.45 695.19L102.95 695.19M97.45 695.69L100.2 695.69L102.95 695.19M52.65 666.85L54.38 666.01L56.97 663.49L56.97 681.13M56.11 664.33L56.11 681.13M52.65 681.13L60.43 681.13M72.53 663.49L69.94 664.33L68.21 666.85L67.35 671.05L67.35 673.57L68.21 677.77L69.94 680.29L72.53 681.13L74.26 681.13L76.86 680.29L78.59 677.77L79.45 673.57L79.45 671.05L78.59 666.85L76.86 664.33L74.26 663.49L72.53 663.49M72.53 663.49L70.8 664.33L69.94 665.17L69.08 666.85L68.21 671.05L68.21 673.57L69.08 677.77L69.94 679.45L70.8 680.29L72.53 681.13M74.26 681.13L75.99 680.29L76.86 679.45L77.72 677.77L78.59 673.57L78.59 671.05L77.72 666.85L76.86 665.17L75.99 664.33L74.26 663.49M83.85 668.23L92.85 668.23M101.85 663.23L101.85 672.73M102.4 662.23L102.4 672.73M102.4 662.23L96.35 669.73L105.15 669.73M100.2 672.73L104.05 672.73M52.65 633.89L54.38 633.05L56.97 630.53L56.97 648.17M56.11 631.37L56.11 648.17M52.65 648.17L60.43 648.17M72.53 630.53L69.94 631.37L68.21 633.89L67.35 638.09L67.35 640.61L68.21 644.81L69.94 647.33L72.53 648.17L74.26 648.17L76.86 647.33L78.59 644.81L79.45 640.61L79.45 638.09L78.59 633.89L76.86 631.37L74.26 630.53L72.53 630.53M72.53 630.53L70.8 631.37L69.94 632.21L69.08 633.89L68.21 638.09L68.21 640.61L69.08 644.81L69.94 646.49L70.8 647.33L72.53 648.17M74.26 648.17L75.99 647.33L76.86 646.49L77.72 644.81L78.59 640.61L78.59 638.09L77.72 633.89L76.86 632.21L75.99 631.37L74.26 630.53M83.85 635.27L92.85 635.27M96.9 631.27L97.45 631.77L96.9 632.27L96.35 631.77L96.35 631.27L96.9 630.27L97.45 629.77L99.1 629.27L101.3 629.27L102.95 629.77L103.5 630.77L103.5 632.27L102.95 633.27L101.3 633.77L99.65 633.77M101.3 629.27L102.4 629.77L102.95 630.77L102.95 632.27L102.4 633.27L101.3 633.77M101.3 633.77L102.4 634.27L103.5 635.27L104.05 636.27L104.05 637.77L103.5 638.77L102.95 639.27L101.3 639.77L99.1 639.77L97.45 639.27L96.9 638.77L96.35 637.77L96.35 637.27L96.9 636.77L97.45 637.27L96.9 637.77M102.95 634.77L103.5 636.27L103.5 637.77L102.95 638.77L102.4 639.27L101.3 639.77M52.65 600.93L54.38 600.09L56.97 597.57L56.97 615.21M56.11 598.41L56.11 615.21M52.65 615.21L60.43 615.21M72.53 597.57L69.94 598.41L68.21 600.93L67.35 605.13L67.35 607.65L68.21 611.85L69.94 614.37L72.53 615.21L74.26 615.21L76.86 614.37L78.59 611.85L79.45 607.65L79.45 605.13L78.59 600.93L76.86 598.41L74.26 597.57L72.53 597.57M72.53 597.57L70.8 598.41L69.94 599.25L69.08 600.93L68.21 605.13L68.21 607.65L69.08 611.85L69.94 613.53L70.8 614.37L72.53 615.21M74.26 615.21L75.99 614.37L76.86 613.53L77.72 611.85L78.59 607.65L78.59 605.13L77.72 600.93L76.86 599.25L75.99 598.41L74.26 597.57M83.85 602.31L92.85 602.31M96.9 598.31L97.45 598.81L96.9 599.31L96.35 598.81L96.35 598.31L96.9 597.31L97.45 596.81L99.1 596.31L101.3 596.31L102.95 596.81L103.5 597.31L104.05 598.31L104.05 599.31L103.5 600.31L101.85 601.31L99.1 602.31L98 602.81L96.9 603.81L96.35 605.31L96.35 606.81M101.3 596.31L102.4 596.81L102.95 597.31L103.5 598.31L103.5 599.31L102.95 600.31L101.3 601.31L99.1 602.31M96.35 605.81L96.9 605.31L98 605.31L100.75 606.31L102.4 606.31L103.5 605.81L104.05 605.31M98 605.31L100.75 606.81L102.95 606.81L103.5 606.31L104.05 605.31L104.05 604.31" fill="none" stroke="#000" stroke-width="1.7" stroke-linecap="round" stroke-linejoin="round"/>
<path d="M143.15 838.87L144.75 838.03L147.15 835.51L147.15 853.15M146.35 836.35L146.35 853.15M143.15 853.15L150.35 853.15" fill="none" stroke="#000" stroke-width="1.7" stroke-linecap="round" stroke-linejoin="round"/>
<path d="M391.15 838.87L392.91 838.03L395.55 835.51L395.55 853.15M394.67 836.35L394.67 853.15M391.15 853.15L399.08 853.15M411.4 835.51L408.76 836.35L407 838.87L406.12 843.07L406.12 845.59L407 849.79L408.76 852.31L411.4 853.15L413.17 853.15L415.81 852.31L417.57 849.79L418.45 845.59L418.45 843.07L417.57 838.87L415.81 836.35L413.17 835.51L411.4 835.51M411.4 835.51L409.64 836.35L408.76 837.19L407.88 838.87L407 843.07L407 845.59L407.88 849.79L408.76 851.47L409.64 852.31L411.4 853.15M413.17 853.15L414.93 852.31L415.81 851.47L416.69 849.79L417.57 845.59L417.57 843.07L416.69 838.87L415.81 837.19L414.93 836.35L413.17 835.51" fill="none" stroke="#000" stroke-width="1.7" stroke-linecap="round" stroke-linejoin="round"/>
<path d="M640.15 838.87L641.88 838.03L644.48 835.51L644.48 853.15M643.62 836.35L643.62 853.15M640.15 853.15L647.95 853.15M660.08 835.51L657.48 836.35L655.75 838.87L654.88 843.07L654.88 845.59L655.75 849.79L657.48 852.31L660.08 853.15L661.82 853.15L664.42 852.31L666.15 849.79L667.02 845.59L667.02 843.07L666.15 838.87L664.42 836.35L661.82 835.51L660.08 835.51M660.08 835.51L658.35 836.35L657.48 837.19L656.62 838.87L655.75 843.07L655.75 845.59L656.62 849.79L657.48 851.47L658.35 852.31L660.08 853.15M661.82 853.15L663.55 852.31L664.42 851.47L665.28 849.79L666.15 845.59L666.15 843.07L665.28 838.87L664.42 837.19L663.55 836.35L661.82 835.51M677.42 835.51L674.82 836.35L673.08 838.87L672.22 843.07L672.22 845.59L673.08 849.79L674.82 852.31L677.42 853.15L679.15 853.15L681.75 852.31L683.48 849.79L684.35 845.59L684.35 843.07L683.48 838.87L681.75 836.35L679.15 835.51L677.42 835.51M677.42 835.51L675.68 836.35L674.82 837.19L673.95 838.87L673.08 843.07L673.08 845.59L673.95 849.79L674.82 851.47L675.68 852.31L677.42 853.15M679.15 853.15L680.88 852.31L681.75 851.47L682.62 849.79L683.48 845.59L683.48 843.07L682.62 838.87L681.75 837.19L680.88 836.35L679.15 835.51" fill="none" stroke="#000" stroke-width="1.7" stroke-linecap="round" stroke-linejoin="round"/>
<path d="M330.69 872.01L330.69 889.65M331.54 872.01L331.54 889.65M328.15 872.01L338.33 872.01L340.87 872.85L341.72 873.69L342.57 875.37L342.57 877.05L341.72 878.73L340.87 879.57L338.33 880.41M338.33 872.01L340.02 872.85L340.87 873.69L341.72 875.37L341.72 877.05L340.87 878.73L340.02 879.57L338.33 880.41M331.54 880.41L338.33 880.41L340.87 881.25L341.72 882.09L342.57 883.77L342.57 886.29L341.72 887.97L340.87 888.81L338.33 889.65L328.15 889.65M338.33 880.41L340.02 881.25L340.87 882.09L341.72 883.77L341.72 886.29L340.87 887.97L340.02 888.81L338.33 889.65M348.51 882.93L358.68 882.93L358.68 881.25L357.84 879.57L356.99 878.73L355.29 877.89L352.75 877.89L350.2 878.73L348.51 880.41L347.66 882.93L347.66 884.61L348.51 887.13L350.2 888.81L352.75 889.65L354.44 889.65L356.99 888.81L358.68 887.13M357.84 882.93L357.84 880.41L356.99 878.73M352.75 877.89L351.05 878.73L349.35 880.41L348.51 882.93L348.51 884.61L349.35 887.13L351.05 888.81L352.75 889.65M365.47 879.57L365.47 880.41L364.62 880.41L364.62 879.57L365.47 878.73L367.16 877.89L370.56 877.89L372.25 878.73L373.1 879.57L373.95 881.25L373.95 887.13L374.8 888.81L375.65 889.65M373.1 879.57L373.1 887.13L373.95 888.81L375.65 889.65L376.49 889.65M373.1 881.25L372.25 882.09L367.16 882.93L364.62 883.77L363.77 885.45L363.77 887.13L364.62 888.81L367.16 889.65L369.71 889.65L371.41 888.81L373.1 887.13M367.16 882.93L365.47 883.77L364.62 885.45L364.62 887.13L365.47 888.81L367.16 889.65M382.43 877.89L382.43 889.65M383.28 877.89L383.28 889.65M383.28 880.41L384.98 878.73L387.52 877.89L389.22 877.89L391.76 878.73L392.61 880.41L392.61 889.65M389.22 877.89L390.91 878.73L391.76 880.41L391.76 889.65M392.61 880.41L394.31 878.73L396.85 877.89L398.55 877.89L401.09 878.73L401.94 880.41L401.94 889.65M398.55 877.89L400.24 878.73L401.09 880.41L401.09 889.65M379.89 877.89L383.28 877.89M379.89 889.65L385.82 889.65M389.22 889.65L395.15 889.65M398.55 889.65L404.48 889.65M423.14 868.65L423.14 895.53M423.99 868.65L423.99 895.53M423.14 868.65L429.08 868.65M423.14 895.53L429.08 895.53M435.86 879.57L435.86 880.41L435.02 880.41L435.02 879.57L435.86 878.73L437.56 877.89L440.95 877.89L442.65 878.73L443.5 879.57L444.35 881.25L444.35 887.13L445.19 888.81L446.04 889.65M443.5 879.57L443.5 887.13L444.35 888.81L446.04 889.65L446.89 889.65M443.5 881.25L442.65 882.09L437.56 882.93L435.02 883.77L434.17 885.45L434.17 887.13L435.02 888.81L437.56 889.65L440.11 889.65L441.8 888.81L443.5 887.13M437.56 882.93L435.86 883.77L435.02 885.45L435.02 887.13L435.86 888.81L437.56 889.65M452.83 877.89L452.83 889.65M453.68 877.89L453.68 889.65M453.68 882.93L454.52 880.41L456.22 878.73L457.92 877.89L460.46 877.89L461.31 878.73L461.31 879.57L460.46 880.41L459.61 879.57L460.46 878.73M450.28 877.89L453.68 877.89M450.28 889.65L456.22 889.65M475.73 880.41L474.88 881.25L475.73 882.09L476.58 881.25L476.58 880.41L474.88 878.73L473.18 877.89L470.64 877.89L468.09 878.73L466.4 880.41L465.55 882.93L465.55 884.61L466.4 887.13L468.09 888.81L470.64 889.65L472.34 889.65L474.88 888.81L476.58 887.13M470.64 877.89L468.94 878.73L467.25 880.41L466.4 882.93L466.4 884.61L467.25 887.13L468.94 888.81L470.64 889.65M490.15 879.57L490.99 877.89L490.99 881.25L490.15 879.57L489.3 878.73L487.6 877.89L484.21 877.89L482.51 878.73L481.66 879.57L481.66 881.25L482.51 882.09L484.21 882.93L488.45 884.61L490.15 885.45L490.99 886.29M481.66 880.41L482.51 881.25L484.21 882.09L488.45 883.77L490.15 884.61L490.99 885.45L490.99 887.97L490.15 888.81L488.45 889.65L485.06 889.65L483.36 888.81L482.51 887.97L481.66 886.29L481.66 889.65L482.51 887.97M496.93 882.93L507.11 882.93L507.11 881.25L506.26 879.57L505.41 878.73L503.72 877.89L501.17 877.89L498.63 878.73L496.93 880.41L496.08 882.93L496.08 884.61L496.93 887.13L498.63 888.81L501.17 889.65L502.87 889.65L505.41 888.81L507.11 887.13M506.26 882.93L506.26 880.41L505.41 878.73M501.17 877.89L499.48 878.73L497.78 880.41L496.93 882.93L496.93 884.61L497.78 887.13L499.48 888.81L501.17 889.65M522.38 880.41L521.53 881.25L522.38 882.09L523.22 881.25L523.22 880.41L521.53 878.73L519.83 877.89L517.29 877.89L514.74 878.73L513.05 880.41L512.2 882.93L512.2 884.61L513.05 887.13L514.74 888.81L517.29 889.65L518.98 889.65L521.53 888.81L523.22 887.13M517.29 877.89L515.59 878.73L513.89 880.41L513.05 882.93L513.05 884.61L513.89 887.13L515.59 888.81L517.29 889.65M533.4 868.65L533.4 895.53M534.25 868.65L534.25 895.53M528.31 868.65L534.25 868.65M528.31 895.53L534.25 895.53" fill="none" stroke="#000" stroke-width="1.7" stroke-linecap="round" stroke-linejoin="round"/>
<path d="M3.37 -18.49L3.37 -0.85M4.2 -18.49L4.2 -0.85M0.85 -18.49L10.91 -18.49L13.43 -17.65L14.27 -16.81L15.11 -15.13L15.11 -12.61L14.27 -10.93L13.43 -10.09L10.91 -9.25L4.2 -9.25M10.91 -18.49L12.59 -17.65L13.43 -16.81L14.27 -15.13L14.27 -12.61L13.43 -10.93L12.59 -10.09L10.91 -9.25M0.85 -0.85L6.72 -0.85M34.39 -21.85L34.39 5.03M35.23 -21.85L35.23 5.03M34.39 -21.85L40.26 -21.85M34.39 5.03L40.26 5.03M51.16 -18.49L51.16 -4.21L50.33 -1.69L48.65 -0.85L46.97 -0.85L45.29 -1.69L44.46 -3.37L44.46 -5.05L45.29 -5.89L46.13 -5.05L45.29 -4.21M50.33 -18.49L50.33 -4.21L49.49 -1.69L48.65 -0.85M47.81 -18.49L53.68 -18.49M58.71 -12.61L63.74 -0.85M59.55 -12.61L63.74 -2.53M68.77 -12.61L63.74 -0.85L62.07 2.51L60.39 4.19L58.71 5.03L57.87 5.03L57.03 4.19L57.87 3.35L58.71 4.19M57.03 -12.61L62.07 -12.61M65.42 -12.61L70.45 -12.61M88.06 -21.85L72.97 5.03M93.93 -18.49L93.93 -0.85M94.77 -18.49L94.77 -0.85M91.42 -18.49L101.48 -18.49L103.99 -17.65L104.83 -16.81L105.67 -15.13L105.67 -13.45L104.83 -11.77L103.99 -10.93L101.48 -10.09M101.48 -18.49L103.16 -17.65L103.99 -16.81L104.83 -15.13L104.83 -13.45L103.99 -11.77L103.16 -10.93L101.48 -10.09M94.77 -10.09L101.48 -10.09L103.99 -9.25L104.83 -8.41L105.67 -6.73L105.67 -4.21L104.83 -2.53L103.99 -1.69L101.48 -0.85L91.42 -0.85M101.48 -10.09L103.16 -9.25L103.99 -8.41L104.83 -6.73L104.83 -4.21L103.99 -2.53L103.16 -1.69L101.48 -0.85M111.54 -7.57L121.6 -7.57L121.6 -9.25L120.77 -10.93L119.93 -11.77L118.25 -12.61L115.73 -12.61L113.22 -11.77L111.54 -10.09L110.7 -7.57L110.7 -5.89L111.54 -3.37L113.22 -1.69L115.73 -0.85L117.41 -0.85L119.93 -1.69L121.6 -3.37M120.77 -7.57L120.77 -10.09L119.93 -11.77M115.73 -12.61L114.06 -11.77L112.38 -10.09L111.54 -7.57L111.54 -5.89L112.38 -3.37L114.06 -1.69L115.73 -0.85M128.31 -10.93L128.31 -10.09L127.47 -10.09L127.47 -10.93L128.31 -11.77L129.99 -12.61L133.34 -12.61L135.02 -11.77L135.86 -10.93L136.7 -9.25L136.7 -3.37L137.54 -1.69L138.38 -0.85M135.86 -10.93L135.86 -3.37L136.7 -1.69L138.38 -0.85L139.21 -0.85M135.86 -9.25L135.02 -8.41L129.99 -7.57L127.47 -6.73L126.64 -5.05L126.64 -3.37L127.47 -1.69L129.99 -0.85L132.51 -0.85L134.18 -1.69L135.86 -3.37M129.99 -7.57L128.31 -6.73L127.47 -5.05L127.47 -3.37L128.31 -1.69L129.99 -0.85M145.08 -12.61L145.08 -0.85M145.92 -12.61L145.92 -0.85M145.92 -10.09L147.6 -11.77L150.12 -12.61L151.79 -12.61L154.31 -11.77L155.15 -10.09L155.15 -0.85M151.79 -12.61L153.47 -11.77L154.31 -10.09L154.31 -0.85M155.15 -10.09L156.82 -11.77L159.34 -12.61L161.02 -12.61L163.53 -11.77L164.37 -10.09L164.37 -0.85M161.02 -12.61L162.69 -11.77L163.53 -10.09L163.53 -0.85M142.57 -12.61L145.92 -12.61M142.57 -0.85L148.44 -0.85M151.79 -0.85L157.66 -0.85M161.02 -0.85L166.89 -0.85M176.11 -21.85L176.11 5.03M176.95 -21.85L176.95 5.03M171.08 -21.85L176.95 -21.85M171.08 5.03L176.95 5.03" fill="none" stroke="#000" stroke-width="1.7" stroke-linecap="round" stroke-linejoin="round" transform="translate(27.3 538.5) rotate(-90)"/>
<path d="M677.53 80.81L677.53 98.45M678.35 80.81L678.35 98.45M675.05 80.81L684.96 80.81L687.44 81.65L688.26 82.49L689.09 84.17L689.09 85.85L688.26 87.53L687.44 88.37L684.96 89.21L678.35 89.21M684.96 80.81L686.61 81.65L687.44 82.49L688.26 84.17L688.26 85.85L687.44 87.53L686.61 88.37L684.96 89.21M675.05 98.45L680.83 98.45M682.48 89.21L684.13 90.05L684.96 90.89L687.44 96.77L688.26 97.61L689.09 97.61L689.92 96.77M684.13 90.05L684.96 91.73L686.61 97.61L687.44 98.45L689.09 98.45L689.92 96.77L689.92 95.93M696.52 84.17L698.17 83.33L700.65 80.81L700.65 98.45M699.83 81.65L699.83 98.45M696.52 98.45L703.96 98.45M712.21 88.37L712.21 89.21L711.39 89.21L711.39 88.37L712.21 87.53L713.87 86.69L717.17 86.69L718.82 87.53L719.65 88.37L720.47 90.05L720.47 95.93L721.3 97.61L722.12 98.45M719.65 88.37L719.65 95.93L720.47 97.61L722.12 98.45L722.95 98.45M719.65 90.05L718.82 90.89L713.87 91.73L711.39 92.57L710.56 94.25L710.56 95.93L711.39 97.61L713.87 98.45L716.34 98.45L717.99 97.61L719.65 95.93M713.87 91.73L712.21 92.57L711.39 94.25L711.39 95.93L712.21 97.61L713.87 98.45" fill="none" stroke="#000" stroke-width="1.7" stroke-linecap="round" stroke-linejoin="round"/>
<path d="M172.88 185.83L173.72 183.31L173.72 188.35L172.88 185.83L171.2 184.15L168.67 183.31L166.15 183.31L163.63 184.15L161.95 185.83L161.95 187.51L162.79 189.19L163.63 190.03L165.31 190.87L170.36 192.55L172.04 193.39L173.72 195.07M161.95 187.51L163.63 189.19L165.31 190.03L170.36 191.71L172.04 192.55L172.88 193.39L173.72 195.07L173.72 198.43L172.04 200.11L169.51 200.95L166.99 200.95L164.47 200.11L162.79 198.43L161.95 195.91L161.95 200.95L162.79 198.43M180.44 183.31L180.44 200.95M181.28 183.31L181.28 200.95M192.21 183.31L181.28 194.23M185.49 190.87L192.21 200.95M184.64 190.87L191.37 200.95M177.92 183.31L183.8 183.31M188.85 183.31L193.89 183.31M177.92 200.95L183.8 200.95M188.85 200.95L193.89 200.95M203.14 183.31L197.25 200.95M203.14 183.31L209.02 200.95M203.14 185.83L208.18 200.95M198.93 195.91L206.5 195.91M195.57 200.95L200.61 200.95M205.66 200.95L210.7 200.95M216.59 186.67L218.27 185.83L220.79 183.31L220.79 200.95M219.95 184.15L219.95 200.95M216.59 200.95L224.15 200.95" fill="none" stroke="#0000ff" stroke-width="1.7" stroke-linecap="round" stroke-linejoin="round"/>
<path d="M172.98 251.63L173.83 249.11L173.83 254.15L172.98 251.63L171.29 249.95L168.74 249.11L166.19 249.11L163.65 249.95L161.95 251.63L161.95 253.31L162.8 254.99L163.65 255.83L165.34 256.67L170.44 258.35L172.13 259.19L173.83 260.87M161.95 253.31L163.65 254.99L165.34 255.83L170.44 257.51L172.13 258.35L172.98 259.19L173.83 260.87L173.83 264.23L172.13 265.91L169.59 266.75L167.04 266.75L164.5 265.91L162.8 264.23L161.95 261.71L161.95 266.75L162.8 264.23M180.62 249.11L180.62 266.75M181.47 249.11L181.47 266.75M192.5 249.11L181.47 260.03M185.71 256.67L192.5 266.75M184.86 256.67L191.65 266.75M178.07 249.11L184.02 249.11M189.11 249.11L194.2 249.11M178.07 266.75L184.02 266.75M189.11 266.75L194.2 266.75M203.54 249.11L197.59 266.75M203.54 249.11L209.48 266.75M203.54 251.63L208.63 266.75M199.29 261.71L206.93 261.71M195.9 266.75L200.99 266.75M206.08 266.75L211.17 266.75M215.42 252.47L216.27 253.31L215.42 254.15L214.57 253.31L214.57 252.47L215.42 250.79L216.27 249.95L218.81 249.11L222.21 249.11L224.75 249.95L225.6 250.79L226.45 252.47L226.45 254.15L225.6 255.83L223.06 257.51L218.81 259.19L217.11 260.03L215.42 261.71L214.57 264.23L214.57 266.75M222.21 249.11L223.9 249.95L224.75 250.79L225.6 252.47L225.6 254.15L224.75 255.83L222.21 257.51L218.81 259.19M214.57 265.07L215.42 264.23L217.11 264.23L221.36 265.91L223.9 265.91L225.6 265.07L226.45 264.23M217.11 264.23L221.36 266.75L224.75 266.75L225.6 265.91L226.45 264.23L226.45 262.55" fill="none" stroke="#00ffff" stroke-width="1.7" stroke-linecap="round" stroke-linejoin="round"/>
<path d="M548.12 160.31L548.12 174.59L547.29 177.11L545.62 177.95L543.95 177.95L542.28 177.11L541.45 175.43L541.45 173.75L542.28 172.91L543.12 173.75L542.28 174.59M547.29 160.31L547.29 174.59L546.46 177.11L545.62 177.95M544.79 160.31L550.63 160.31M554.8 160.31L560.64 177.95M555.63 160.31L560.64 175.43M566.48 160.31L560.64 177.95M553.13 160.31L558.14 160.31M563.14 160.31L568.15 160.31M573.15 160.31L573.15 177.95M573.99 160.31L573.99 177.95M570.65 160.31L576.49 160.31M570.65 177.95L583.16 177.95L583.16 172.91L582.33 177.95M592.34 160.31L586.5 177.95M592.34 160.31L598.18 177.95M592.34 162.83L597.35 177.95M588.17 172.91L595.68 172.91M584.83 177.95L589.84 177.95M594.84 177.95L599.85 177.95" fill="none" stroke="#cc00ff" stroke-width="1.7" stroke-linecap="round" stroke-linejoin="round"/>
<path d="M677.56 341.21L677.56 358.85M678.39 341.21L678.39 358.85M675.05 341.21L685.07 341.21L687.58 342.05L688.41 342.89L689.25 344.57L689.25 346.25L688.41 347.93L687.58 348.77L685.07 349.61L678.39 349.61M685.07 341.21L686.74 342.05L687.58 342.89L688.41 344.57L688.41 346.25L687.58 347.93L686.74 348.77L685.07 349.61M675.05 358.85L680.9 358.85M682.57 349.61L684.24 350.45L685.07 351.29L687.58 357.17L688.41 358.01L689.25 358.01L690.08 357.17M684.24 350.45L685.07 352.13L686.74 358.01L687.58 358.85L689.25 358.85L690.08 357.17L690.08 356.33M695.09 344.57L695.93 345.41L695.09 346.25L694.26 345.41L694.26 344.57L695.09 342.89L695.93 342.05L698.43 341.21L701.77 341.21L704.28 342.05L705.11 342.89L705.95 344.57L705.95 346.25L705.11 347.93L702.61 349.61L698.43 351.29L696.76 352.13L695.09 353.81L694.26 356.33L694.26 358.85M701.77 341.21L703.44 342.05L704.28 342.89L705.11 344.57L705.11 346.25L704.28 347.93L701.77 349.61L698.43 351.29M694.26 357.17L695.09 356.33L696.76 356.33L700.94 358.01L703.44 358.01L705.11 357.17L705.95 356.33M696.76 356.33L700.94 358.85L704.28 358.85L705.11 358.01L705.95 356.33L705.95 354.65" fill="none" stroke="#000" stroke-width="1.7" stroke-linecap="round" stroke-linejoin="round"/>
<path d="M172.88 446.23L173.72 443.71L173.72 448.75L172.88 446.23L171.2 444.55L168.67 443.71L166.15 443.71L163.63 444.55L161.95 446.23L161.95 447.91L162.79 449.59L163.63 450.43L165.31 451.27L170.36 452.95L172.04 453.79L173.72 455.47M161.95 447.91L163.63 449.59L165.31 450.43L170.36 452.11L172.04 452.95L172.88 453.79L173.72 455.47L173.72 458.83L172.04 460.51L169.51 461.35L166.99 461.35L164.47 460.51L162.79 458.83L161.95 456.31L161.95 461.35L162.79 458.83M180.44 443.71L180.44 461.35M181.28 443.71L181.28 461.35M192.21 443.71L181.28 454.63M185.49 451.27L192.21 461.35M184.64 451.27L191.37 461.35M177.92 443.71L183.8 443.71M188.85 443.71L193.89 443.71M177.92 461.35L183.8 461.35M188.85 461.35L193.89 461.35M203.14 443.71L197.25 461.35M203.14 443.71L209.02 461.35M203.14 446.23L208.18 461.35M198.93 456.31L206.5 456.31M195.57 461.35L200.61 461.35M205.66 461.35L210.7 461.35M216.59 447.07L218.27 446.23L220.79 443.71L220.79 461.35M219.95 444.55L219.95 461.35M216.59 461.35L224.15 461.35" fill="none" stroke="#0000ff" stroke-width="1.7" stroke-linecap="round" stroke-linejoin="round"/>
<path d="M172.98 512.03L173.83 509.51L173.83 514.55L172.98 512.03L171.29 510.35L168.74 509.51L166.19 509.51L163.65 510.35L161.95 512.03L161.95 513.71L162.8 515.39L163.65 516.23L165.34 517.07L170.44 518.75L172.13 519.59L173.83 521.27M161.95 513.71L163.65 515.39L165.34 516.23L170.44 517.91L172.13 518.75L172.98 519.59L173.83 521.27L173.83 524.63L172.13 526.31L169.59 527.15L167.04 527.15L164.5 526.31L162.8 524.63L161.95 522.11L161.95 527.15L162.8 524.63M180.62 509.51L180.62 527.15M181.47 509.51L181.47 527.15M192.5 509.51L181.47 520.43M185.71 517.07L192.5 527.15M184.86 517.07L191.65 527.15M178.07 509.51L184.02 509.51M189.11 509.51L194.2 509.51M178.07 527.15L184.02 527.15M189.11 527.15L194.2 527.15M203.54 509.51L197.59 527.15M203.54 509.51L209.48 527.15M203.54 512.03L208.63 527.15M199.29 522.11L206.93 522.11M195.9 527.15L200.99 527.15M206.08 527.15L211.17 527.15M215.42 512.87L216.27 513.71L215.42 514.55L214.57 513.71L214.57 512.87L215.42 511.19L216.27 510.35L218.81 509.51L222.21 509.51L224.75 510.35L225.6 511.19L226.45 512.87L226.45 514.55L225.6 516.23L223.06 517.91L218.81 519.59L217.11 520.43L215.42 522.11L214.57 524.63L214.57 527.15M222.21 509.51L223.9 510.35L224.75 511.19L225.6 512.87L225.6 514.55L224.75 516.23L222.21 517.91L218.81 519.59M214.57 525.47L215.42 524.63L217.11 524.63L221.36 526.31L223.9 526.31L225.6 525.47L226.45 524.63M217.11 524.63L221.36 527.15L224.75 527.15L225.6 526.31L226.45 524.63L226.45 522.95" fill="none" stroke="#00ffff" stroke-width="1.7" stroke-linecap="round" stroke-linejoin="round"/>
<path d="M548.12 420.71L548.12 434.99L547.29 437.51L545.62 438.35L543.95 438.35L542.28 437.51L541.45 435.83L541.45 434.15L542.28 433.31L543.12 434.15L542.28 434.99M547.29 420.71L547.29 434.99L546.46 437.51L545.62 438.35M544.79 420.71L550.63 420.71M554.8 420.71L560.64 438.35M555.63 420.71L560.64 435.83M566.48 420.71L560.64 438.35M553.13 420.71L558.14 420.71M563.14 420.71L568.15 420.71M573.15 420.71L573.15 438.35M573.99 420.71L573.99 438.35M570.65 420.71L576.49 420.71M570.65 438.35L583.16 438.35L583.16 433.31L582.33 438.35M592.34 420.71L586.5 438.35M592.34 420.71L598.18 438.35M592.34 423.23L597.35 438.35M588.17 433.31L595.68 433.31M584.83 438.35L589.84 438.35M594.84 438.35L599.85 438.35" fill="none" stroke="#cc00ff" stroke-width="1.7" stroke-linecap="round" stroke-linejoin="round"/>
<path d="M677.56 601.81L677.56 619.45M678.39 601.81L678.39 619.45M675.05 601.81L685.07 601.81L687.58 602.65L688.41 603.49L689.25 605.17L689.25 606.85L688.41 608.53L687.58 609.37L685.07 610.21L678.39 610.21M685.07 601.81L686.74 602.65L687.58 603.49L688.41 605.17L688.41 606.85L687.58 608.53L686.74 609.37L685.07 610.21M675.05 619.45L680.9 619.45M682.57 610.21L684.24 611.05L685.07 611.89L687.58 617.77L688.41 618.61L689.25 618.61L690.08 617.77M684.24 611.05L685.07 612.73L686.74 618.61L687.58 619.45L689.25 619.45L690.08 617.77L690.08 616.93M704.28 604.33L703.44 605.17L704.28 606.01L705.11 605.17L705.11 604.33L704.28 602.65L702.61 601.81L700.1 601.81L697.6 602.65L695.93 604.33L695.09 606.01L694.26 609.37L694.26 614.41L695.09 616.93L696.76 618.61L699.27 619.45L700.94 619.45L703.44 618.61L705.11 616.93L705.95 614.41L705.95 613.57L705.11 611.05L703.44 609.37L700.94 608.53L700.1 608.53L697.6 609.37L695.93 611.05L695.09 613.57M700.1 601.81L698.43 602.65L696.76 604.33L695.93 606.01L695.09 609.37L695.09 614.41L695.93 616.93L697.6 618.61L699.27 619.45M700.94 619.45L702.61 618.61L704.28 616.93L705.11 614.41L705.11 613.57L704.28 611.05L702.61 609.37L700.94 608.53" fill="none" stroke="#000" stroke-width="1.7" stroke-linecap="round" stroke-linejoin="round"/>
<path d="M172.88 706.83L173.72 704.31L173.72 709.35L172.88 706.83L171.2 705.15L168.67 704.31L166.15 704.31L163.63 705.15L161.95 706.83L161.95 708.51L162.79 710.19L163.63 711.03L165.31 711.87L170.36 713.55L172.04 714.39L173.72 716.07M161.95 708.51L163.63 710.19L165.31 711.03L170.36 712.71L172.04 713.55L172.88 714.39L173.72 716.07L173.72 719.43L172.04 721.11L169.51 721.95L166.99 721.95L164.47 721.11L162.79 719.43L161.95 716.91L161.95 721.95L162.79 719.43M180.44 704.31L180.44 721.95M181.28 704.31L181.28 721.95M192.21 704.31L181.28 715.23M185.49 711.87L192.21 721.95M184.64 711.87L191.37 721.95M177.92 704.31L183.8 704.31M188.85 704.31L193.89 704.31M177.92 721.95L183.8 721.95M188.85 721.95L193.89 721.95M203.14 704.31L197.25 721.95M203.14 704.31L209.02 721.95M203.14 706.83L208.18 721.95M198.93 716.91L206.5 716.91M195.57 721.95L200.61 721.95M205.66 721.95L210.7 721.95M216.59 707.67L218.27 706.83L220.79 704.31L220.79 721.95M219.95 705.15L219.95 721.95M216.59 721.95L224.15 721.95" fill="none" stroke="#0000ff" stroke-width="1.7" stroke-linecap="round" stroke-linejoin="round"/>
<path d="M172.98 772.63L173.83 770.11L173.83 775.15L172.98 772.63L171.29 770.95L168.74 770.11L166.19 770.11L163.65 770.95L161.95 772.63L161.95 774.31L162.8 775.99L163.65 776.83L165.34 777.67L170.44 779.35L172.13 780.19L173.83 781.87M161.95 774.31L163.65 775.99L165.34 776.83L170.44 778.51L172.13 779.35L172.98 780.19L173.83 781.87L173.83 785.23L172.13 786.91L169.59 787.75L167.04 787.75L164.5 786.91L162.8 785.23L161.95 782.71L161.95 787.75L162.8 785.23M180.62 770.11L180.62 787.75M181.47 770.11L181.47 787.75M192.5 770.11L181.47 781.03M185.71 777.67L192.5 787.75M184.86 777.67L191.65 787.75M178.07 770.11L184.02 770.11M189.11 770.11L194.2 770.11M178.07 787.75L184.02 787.75M189.11 787.75L194.2 787.75M203.54 770.11L197.59 787.75M203.54 770.11L209.48 787.75M203.54 772.63L208.63 787.75M199.29 782.71L206.93 782.71M195.9 787.75L200.99 787.75M206.08 787.75L211.17 787.75M215.42 773.47L216.27 774.31L215.42 775.15L214.57 774.31L214.57 773.47L215.42 771.79L216.27 770.95L218.81 770.11L222.21 770.11L224.75 770.95L225.6 771.79L226.45 773.47L226.45 775.15L225.6 776.83L223.06 778.51L218.81 780.19L217.11 781.03L215.42 782.71L214.57 785.23L214.57 787.75M222.21 770.11L223.9 770.95L224.75 771.79L225.6 773.47L225.6 775.15L224.75 776.83L222.21 778.51L218.81 780.19M214.57 786.07L215.42 785.23L217.11 785.23L221.36 786.91L223.9 786.91L225.6 786.07L226.45 785.23M217.11 785.23L221.36 787.75L224.75 787.75L225.6 786.91L226.45 785.23L226.45 783.55" fill="none" stroke="#00ffff" stroke-width="1.7" stroke-linecap="round" stroke-linejoin="round"/>
<path d="M548.12 681.31L548.12 695.59L547.29 698.11L545.62 698.95L543.95 698.95L542.28 698.11L541.45 696.43L541.45 694.75L542.28 693.91L543.12 694.75L542.28 695.59M547.29 681.31L547.29 695.59L546.46 698.11L545.62 698.95M544.79 681.31L550.63 681.31M554.8 681.31L560.64 698.95M555.63 681.31L560.64 696.43M566.48 681.31L560.64 698.95M553.13 681.31L558.14 681.31M563.14 681.31L568.15 681.31M573.15 681.31L573.15 698.95M573.99 681.31L573.99 698.95M570.65 681.31L576.49 681.31M570.65 698.95L583.16 698.95L583.16 693.91L582.33 698.95M592.34 681.31L586.5 698.95M592.34 681.31L598.18 698.95M592.34 683.83L597.35 698.95M588.17 693.91L595.68 693.91M584.83 698.95L589.84 698.95M594.84 698.95L599.85 698.95" fill="none" stroke="#cc00ff" stroke-width="1.7" stroke-linecap="round" stroke-linejoin="round"/>
<text x="279" y="36" font-size="26">POLARIZED INTENSITY</text>
<text x="52" y="292.0" font-size="26">10<tspan dy="-8" font-size="15">−8</tspan></text>
<text x="52" y="259.1" font-size="26">10<tspan dy="-8" font-size="15">−7</tspan></text>
<text x="52" y="226.1" font-size="26">10<tspan dy="-8" font-size="15">−6</tspan></text>
<text x="52" y="193.1" font-size="26">10<tspan dy="-8" font-size="15">−5</tspan></text>
<text x="52" y="160.2" font-size="26">10<tspan dy="-8" font-size="15">−4</tspan></text>
<text x="52" y="127.2" font-size="26">10<tspan dy="-8" font-size="15">−3</tspan></text>
<text x="52" y="94.3" font-size="26">10<tspan dy="-8" font-size="15">−2</tspan></text>
<text x="674" y="99.0" font-size="26">R1a</text>
<text x="161" y="201.0" font-size="26">SKA1</text>
<text x="161" y="267.0" font-size="26">SKA2</text>
<text x="541" y="178.0" font-size="26">JVLA</text>
<text x="52" y="552.4" font-size="26">10<tspan dy="-8" font-size="15">−8</tspan></text>
<text x="52" y="519.5" font-size="26">10<tspan dy="-8" font-size="15">−7</tspan></text>
<text x="52" y="486.5" font-size="26">10<tspan dy="-8" font-size="15">−6</tspan></text>
<text x="52" y="453.5" font-size="26">10<tspan dy="-8" font-size="15">−5</tspan></text>
<text x="52" y="420.6" font-size="26">10<tspan dy="-8" font-size="15">−4</tspan></text>
<text x="52" y="387.6" font-size="26">10<tspan dy="-8" font-size="15">−3</tspan></text>
<text x="52" y="354.7" font-size="26">10<tspan dy="-8" font-size="15">−2</tspan></text>
<text x="674" y="359.4" font-size="26">R2</text>
<text x="161" y="461.4" font-size="26">SKA1</text>
<text x="161" y="527.4" font-size="26">SKA2</text>
<text x="541" y="438.4" font-size="26">JVLA</text>
<text x="52" y="813.0" font-size="26">10<tspan dy="-8" font-size="15">−8</tspan></text>
<text x="52" y="780.1" font-size="26">10<tspan dy="-8" font-size="15">−7</tspan></text>
<text x="52" y="747.1" font-size="26">10<tspan dy="-8" font-size="15">−6</tspan></text>
<text x="52" y="714.1" font-size="26">10<tspan dy="-8" font-size="15">−5</tspan></text>
<text x="52" y="681.2" font-size="26">10<tspan dy="-8" font-size="15">−4</tspan></text>
<text x="52" y="648.2" font-size="26">10<tspan dy="-8" font-size="15">−3</tspan></text>
<text x="52" y="615.3" font-size="26">10<tspan dy="-8" font-size="15">−2</tspan></text>
<text x="674" y="620.0" font-size="26">R6</text>
<text x="161" y="722.0" font-size="26">SKA1</text>
<text x="161" y="788.0" font-size="26">SKA2</text>
<text x="541" y="699.0" font-size="26">JVLA</text>
<text x="142" y="853" font-size="26">1</text>
<text x="390" y="853" font-size="26">10</text>
<text x="639" y="853" font-size="26">100</text>
<text x="327" y="890" font-size="26">Beam [arcsec]</text>
<text x="27" y="538" font-size="26" transform="rotate(-90 27 538)">P [Jy/Beam]</text>
</svg></body></html>
